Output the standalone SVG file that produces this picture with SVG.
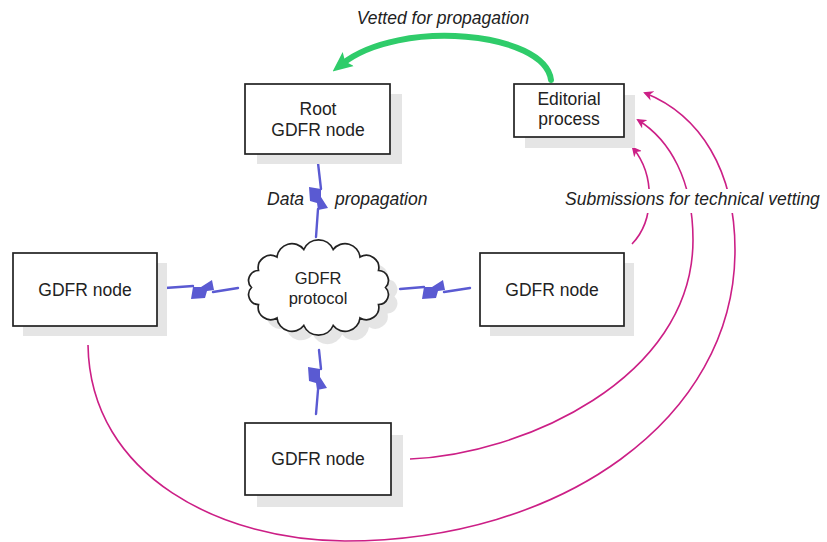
<svg xmlns="http://www.w3.org/2000/svg" xmlns:xlink="http://www.w3.org/1999/xlink" width="827" height="542" viewBox="0 0 827 542">
  <style>
    .shadow { fill: #e5e5e5; stroke: none; }
    .box { fill: #ffffff; stroke: #222222; stroke-width: 1.7; }
    .label { font-family: "Liberation Sans", Arial, sans-serif; font-size: 17.5px; fill: #222222; text-anchor: middle; }
    .cloud-label { font-size: 16.5px; }
    .note { font-family: "Liberation Sans", Arial, sans-serif; font-size: 17.5px; font-style: italic; fill: #222222; }
    .bolt-line { stroke: #5a5ad2; stroke-width: 2.4; fill: none; stroke-linecap: round; }
    .bolt-core { fill: #5a5ad2; stroke: none; }
    .submit { fill: none; stroke: #cc1f86; stroke-width: 1.6; }
    .vetted { fill: none; stroke: #2fcc6a; stroke-width: 6; stroke-linecap: round; }
  </style>
  <defs>
    <marker id="head-magenta" viewBox="0 0 10 10" refX="8" refY="5" markerWidth="10" markerHeight="10" markerUnits="userSpaceOnUse" orient="auto">
      <path d="M0,0 L10,5 L0,10 L3,5 z" fill="#cc1f86"/>
    </marker>
    <marker id="head-green" viewBox="0 0 20 20" refX="8" refY="10" markerWidth="20" markerHeight="20" markerUnits="userSpaceOnUse" orient="auto">
      <path d="M0,1 L20,10 L0,19 L4,10 z" fill="#2fcc6a"/>
    </marker>
    <!-- fat middle part of a lightning bolt, drawn vertically -->
    <polygon id="bolt" points="-10,-12 2,-10 2,-2 9,9 -1,11 -2,4 -9,2"/>
    <!-- scalloped cloud outline -->
    <path id="cloud" d="M385.5,287.5
      A10,10 0 0 1 378.5,304.5
      A12.5,12.5 0 0 1 360,318
      A15,15 0 0 1 333.2,325.5
      A16,16 0 0 1 303.8,325.5
      A15,15 0 0 1 277,318
      A12.5,12.5 0 0 1 258.5,304.5
      A10,10 0 0 1 251.5,287.5
      A10,10 0 0 1 258.5,270.5
      A12.5,12.5 0 0 1 277,257
      A15,15 0 0 1 303.8,249.5
      A16,16 0 0 1 333.2,249.5
      A15,15 0 0 1 360,257
      A12.5,12.5 0 0 1 378.5,270.5
      A10,10 0 0 1 385.5,287.5 Z"/>
  </defs>

  <rect width="827" height="542" fill="#ffffff"/>

  <g id="connectors">
    <!-- editorial output fed back to the root node -->
    <path class="vetted" d="M551,80 C545,32 400,18 342,64" marker-end="url(#head-green)"/>

    <!-- submissions for technical vetting -->
    <path class="submit" d="M632,244 C655,220 655,175 633,148" marker-end="url(#head-magenta)"/>
    <path class="submit" d="M410,459 C520,455 693,380 693,240 C693,180 670,140 638,120" marker-end="url(#head-magenta)"/>
    <path class="submit" d="M88,345 C90,478 225,541 345,541 C560,541 735,420 735,250 C735,170 700,115 645,93" marker-end="url(#head-magenta)"/>

    <!-- data propagation links (lightning bolts) -->
    <g id="bolt-top">
      <path class="bolt-line" d="M318,163 L321,189"/>
      <path class="bolt-line" d="M318,209 L316,237"/>
      <use href="#bolt" xlink:href="#bolt" class="bolt-core" transform="translate(319,199)"/>
    </g>
    <g id="bolt-bottom">
      <path class="bolt-line" d="M319,350 L321,369"/>
      <path class="bolt-line" d="M318,390 L316,414"/>
      <use href="#bolt" xlink:href="#bolt" class="bolt-core" transform="translate(318,379)"/>
    </g>
    <g id="bolt-left">
      <path class="bolt-line" d="M165,288 L193,286"/>
      <path class="bolt-line" d="M213,292 L238,288"/>
      <use href="#bolt" xlink:href="#bolt" class="bolt-core" transform="translate(203,289) rotate(-90)"/>
    </g>
    <g id="bolt-right">
      <path class="bolt-line" d="M400,289 L424,287"/>
      <path class="bolt-line" d="M444,292 L470,288"/>
      <use href="#bolt" xlink:href="#bolt" class="bolt-core" transform="translate(434,289) rotate(-90)"/>
    </g>
  </g>

  <g id="root-node">
    <rect class="shadow" x="257" y="94" width="145" height="70"/>
    <rect class="box" x="245" y="84" width="145" height="70"/>
    <text class="label" x="318" y="115">Root</text>
    <text class="label" x="318" y="136">GDFR node</text>
  </g>

  <g id="editorial-process">
    <rect class="shadow" x="525" y="95" width="110" height="53"/>
    <rect class="box" x="514" y="84" width="110" height="53"/>
    <text class="label" x="569" y="105">Editorial</text>
    <text class="label" x="569" y="125">process</text>
  </g>

  <g id="left-node">
    <rect class="shadow" x="23" y="263" width="144" height="73"/>
    <rect class="box" x="13" y="253" width="144" height="73"/>
    <text class="label" x="85" y="296">GDFR node</text>
  </g>

  <g id="right-node">
    <rect class="shadow" x="490" y="263" width="144" height="73"/>
    <rect class="box" x="480" y="253" width="144" height="73"/>
    <text class="label" x="552" y="296">GDFR node</text>
  </g>

  <g id="bottom-node">
    <rect class="shadow" x="257" y="435" width="146" height="72"/>
    <rect class="box" x="245" y="423" width="146" height="72"/>
    <text class="label" x="318" y="465">GDFR node</text>
  </g>

  <g id="protocol-cloud">
    <use href="#cloud" xlink:href="#cloud" class="shadow" transform="translate(9,9)"/>
    <use href="#cloud" xlink:href="#cloud" class="box"/>
    <text class="label cloud-label" x="318" y="284">GDFR</text>
    <text class="label cloud-label" x="318" y="304">protocol</text>
  </g>

  <g id="labels">
    <text class="note" x="443" y="24" text-anchor="middle">Vetted for propagation</text>
    <text class="note" x="304" y="205" text-anchor="end">Data</text>
    <text class="note" x="335" y="205">propagation</text>
    <rect x="562" y="189" width="265" height="24" fill="#ffffff"/>
    <text class="note" x="565" y="205">Submissions for technical vetting</text>
  </g>
</svg>
